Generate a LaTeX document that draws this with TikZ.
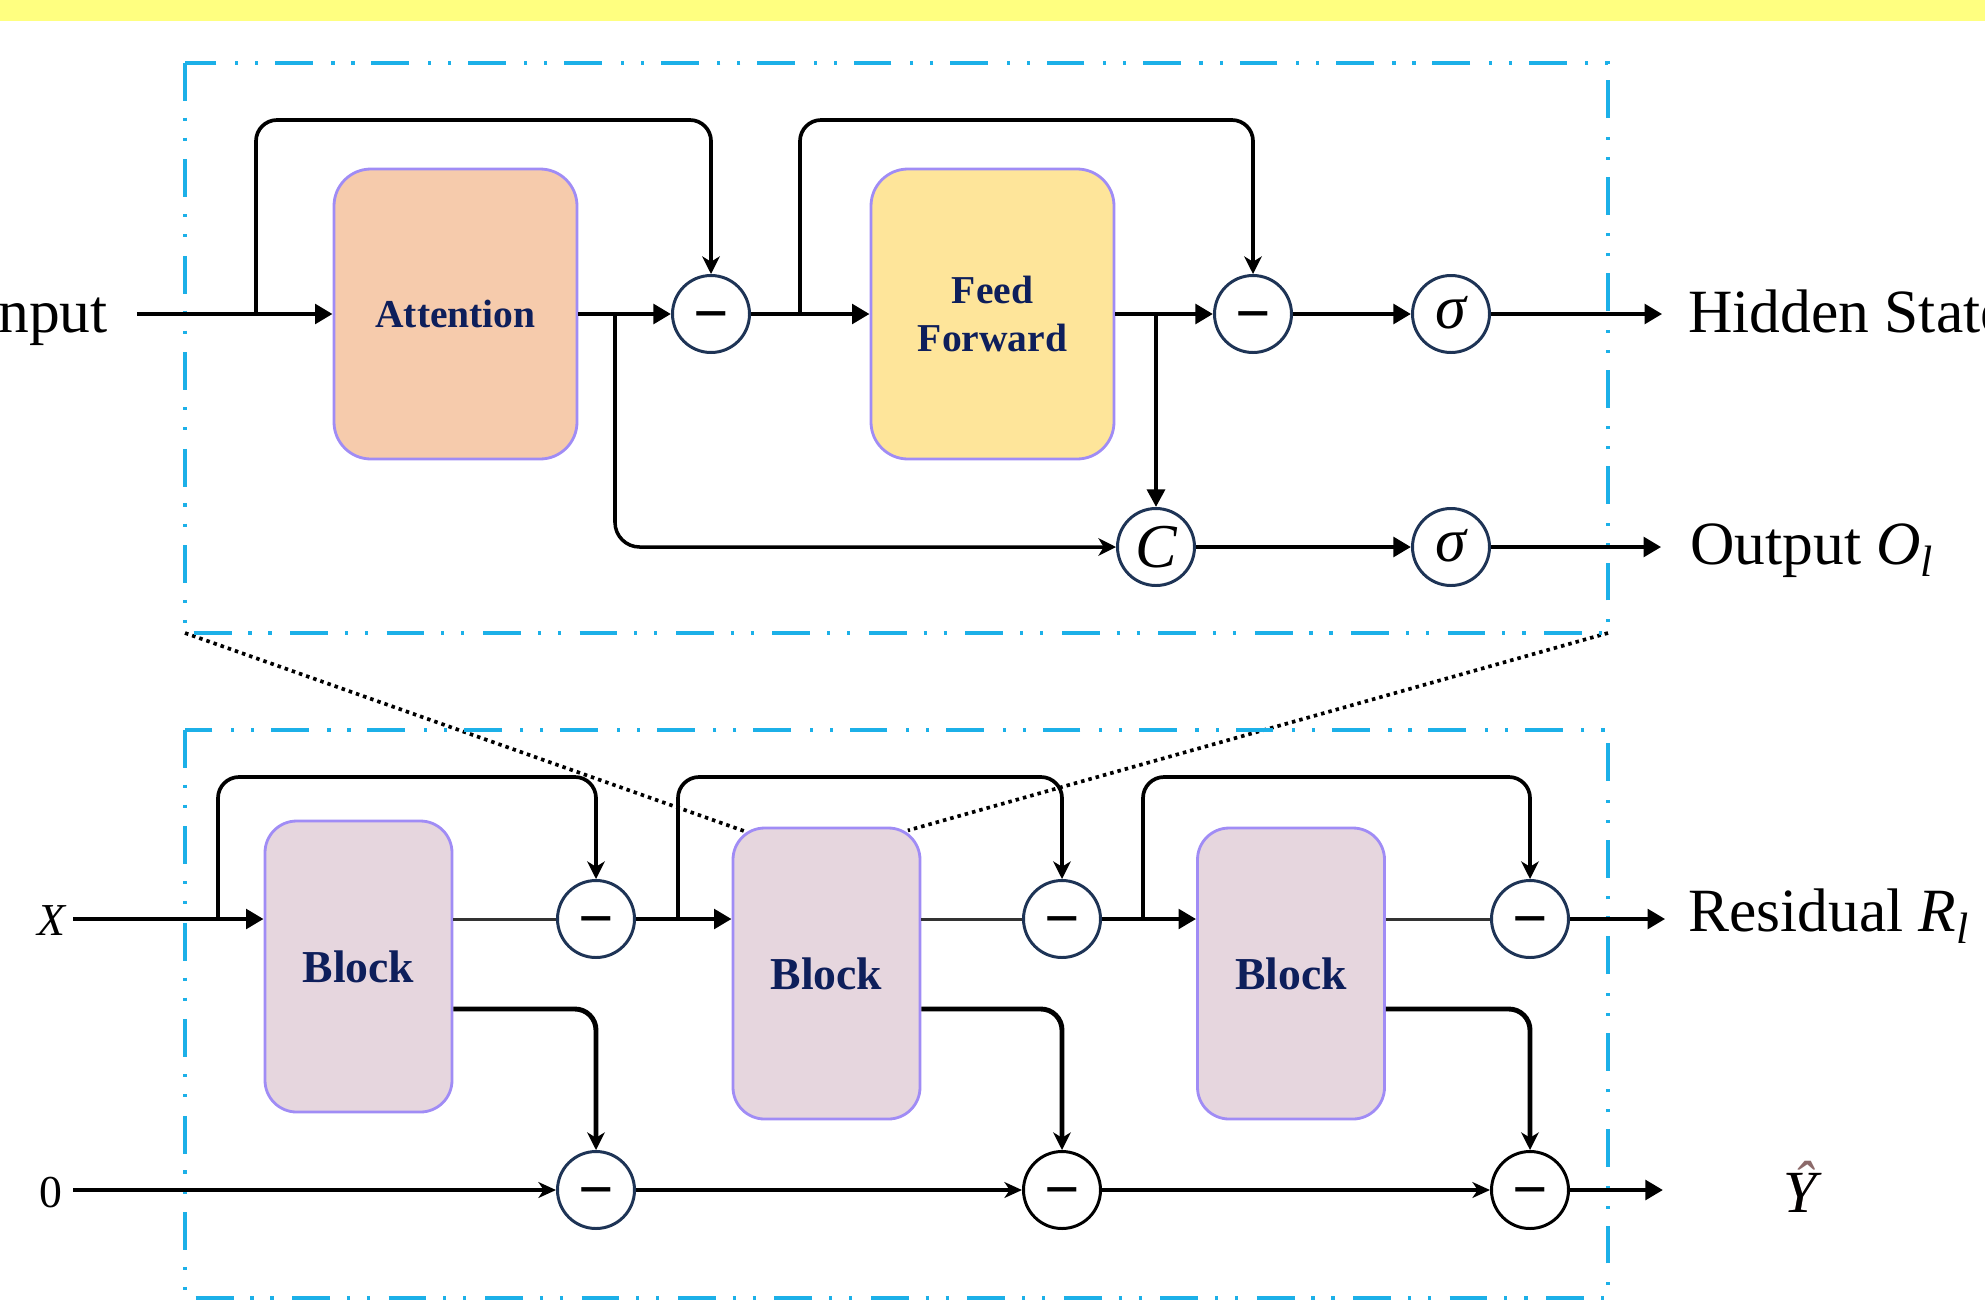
\documentclass[tikz,border=0pt]{standalone}
\usepackage{fontspec}
\setmainfont{Liberation Serif}
\usetikzlibrary{arrows.meta,backgrounds}
\newlength\pxl \setlength\pxl{0.02cm}
\definecolor{cyanb}{HTML}{1CB0E8}
\definecolor{bandyellow}{HTML}{FFFF80}
\definecolor{attfill}{HTML}{F6CBAC}
\definecolor{fffill}{HTML}{FEE59A}
\definecolor{blockfill}{HTML}{E6D6DE}
\definecolor{boxline}{HTML}{A08CF5}
\definecolor{navy}{HTML}{0E1F5B}
\definecolor{opline}{HTML}{1E3456}
\definecolor{hatc}{HTML}{8C6A6A}
\tikzset{
  dashbox/.style={draw=cyanb, line width=2.2pt, dash pattern=on 21.5pt off 9.6pt on 1.8pt off 9.6pt on 1.8pt off 10.6pt},
  bigbox/.style={draw=boxline, line width=1.6pt, rounded corners=21pt, minimum width=243\pxl, minimum height=290\pxl, text=navy, font=\bfseries\fontsize{22.5}{27}\selectfont, align=center, inner sep=0pt},
  blockbox/.style={draw=boxline, line width=1.6pt, rounded corners=18pt, fill=blockfill, minimum width=187\pxl, minimum height=291\pxl, text=navy, font=\bfseries\fontsize{26}{30}\selectfont, inner sep=0pt},
  opnode/.style={circle, draw=opline, line width=1.7pt, fill=white, minimum size=77\pxl, inner sep=0pt, font=\fontsize{35.5}{40}\selectfont},
  minusop/.style={opnode, text height=23pt, text depth=0pt, font=\bfseries\fontsize{35.5}{40}\selectfont},
  sigop/.style={opnode, text height=16.4pt, text depth=0pt, font=\fontsize{35.5}{40}\selectfont\itshape},
  cop/.style={opnode, text height=23.6pt, text depth=0pt, font=\fontsize{35.5}{40}\selectfont\itshape},
  lbl/.style={inner sep=0pt, font=\fontsize{35}{42}\selectfont},
  smalllbl/.style={inner sep=0pt, font=\fontsize{26}{30}\selectfont},
  marr/.style={line width=2.8pt, -{Triangle[length=10pt,width=11pt]}},
  skipl/.style={line width=2.1pt, rounded corners=12pt, -{Stealth[length=10pt,width=10pt,inset=3pt]}},
  brl/.style={line width=2pt, rounded corners=14pt, -{Stealth[length=10pt,width=10pt,inset=3pt]}},
  vdn/.style={line width=2.4pt, -{Triangle[length=10pt,width=10pt]}},
  thinl/.style={line width=1.7pt, draw=black!80},
  lowl/.style={line width=2.8pt, rounded corners=12pt, -{Stealth[length=10pt,width=10pt,inset=3pt]}},
  zarr/.style={line width=2.8pt, -{Stealth[length=10pt,width=9pt,inset=3pt]}},
  dotl/.style={line width=2.1pt, dash pattern=on 2pt off 2.3pt}
}
\begin{document}
\begin{tikzpicture}[x=0.02cm,y=-0.02cm]
\useasboundingbox (0,0) rectangle (1985,1302);
\clip (0,0) rectangle (1985,1302);
\fill[bandyellow] (0,0) rectangle (1985,21);
% frames
\draw[dashbox] (185,63) rectangle (1608,633);
\draw[dashbox] (185,730) rectangle (1608,1298);
\coordinate (tbl) at (185,633);
\coordinate (tbr) at (1608,633);

% ---------- top detail ----------
\node[bigbox, fill=attfill] (att) at (455.5,314) {Attention};
\node[bigbox, fill=fffill] (ff) at (992.5,314) {Feed\\Forward};
\node[minusop] (m1) at (711,314) {−};
\node[minusop] (m2) at (1253,314) {−};
\node[sigop] (s1) at (1451,314) {σ};
\node[cop] (cc) at (1156,547) {C};
\node[sigop] (s2) at (1451,547) {σ};

\node[lbl, anchor=base east] (inp) at (108,332) {Input};
\node[lbl, anchor=base west] (hid) at (1688,332) {Hidden State};
\node[lbl, anchor=base west] (outl) at (1690,564) {Output {\itshape O}\raisebox{-7pt}{\fontsize{25}{25}\selectfont\itshape l}};

\coordinate (tt) at (0,120);
\coordinate (k0) at (256,314);
\coordinate (br) at (615,314);
\coordinate (k2t) at (800,314);

\draw[marr, shorten <=16.4pt] (inp.east |- att.west) -- (att.west);
\draw[skipl] (k0) |- (m1.north |- tt) -- (m1.north);
\draw[marr] (att) -- (m1);
\draw[brl] (br) |- (cc);
\draw[marr] (m1) -- (ff);
\draw[skipl] (k2t) |- (m2.north |- tt) -- (m2.north);
\draw[marr] (ff) -- (m2);
\draw[vdn] (cc.north |- ff.east) -- (cc.north);
\draw[marr] (m2) -- (s1);
\draw[marr, shorten >=14.7pt] (s1) -- (hid.west |- s1);
\draw[marr] (cc) -- (s2);
\draw[marr, shorten >=16.4pt] (s2) -- (outl.west |- s2);

% ---------- bottom stack ----------
\node[blockbox] (b1) at (358.5,966.5) {Block};
\node[blockbox] (b2) at (826.5,973.5) {Block};
\node[blockbox] (b3) at (1291,973.5) {Block};
\node[minusop] (r1) at (596,919) {−};
\node[minusop] (r2) at (1062,919) {−};
\node[minusop] (r3) at (1530,919) {−};
\node[minusop] (z1) at (596,1190) {−};
\node[minusop, draw=black] (z2) at (1062,1190) {−};
\node[minusop, draw=black] (z3) at (1530,1190) {−};

\node[smalllbl, anchor=base east] (xl) at (66,935) {\itshape X};
\node[smalllbl, anchor=base east] (zl) at (63,1207) {0};
\node[lbl, anchor=base west] (res) at (1688,931) {Residual {\itshape R}\raisebox{-7pt}{\fontsize{25}{25}\selectfont\itshape l}};
\node[lbl, anchor=base, font=\fontsize{34}{40}\selectfont\itshape] (yh) at (1800,1212) {\rlap{\textcolor{hatc}{Ŷ}}Y};

\coordinate (xS) at (73,919);
\coordinate (zS) at (73,1190);
\coordinate (tb) at (0,777);
\coordinate (lo) at (0,1009);
\coordinate (k1) at (218,919);
\coordinate (k2) at (678,919);
\coordinate (k3) at (1143,919);
\coordinate (yE) at (1663,1190);

\draw[marr] (xS) -- (b1.west |- xS);
\draw[skipl] (k1) |- (r1.north |- tb) -- (r1.north);
\draw[thinl] (b1.east |- r1) -- (r1);
\draw[marr] (r1) -- (b2.west |- r1);
\draw[skipl] (k2) |- (r2.north |- tb) -- (r2.north);
\draw[thinl] (b2.east |- r2) -- (r2);
\draw[marr] (r2) -- (b3.west |- r2);
\draw[skipl] (k3) |- (r3.north |- tb) -- (r3.north);
\draw[thinl] (b3.east |- r3) -- (r3);
\draw[marr, shorten >=13pt] (r3) -- (res.west |- r3);

\draw[lowl] (b1.east |- lo) -| (z1);
\draw[lowl] (b2.east |- lo) -| (z2);
\draw[lowl] (b3.east |- lo) -| (z3);

\draw[zarr] (zS) -- (z1);
\draw[zarr] (z1) -- (z2);
\draw[zarr] (z2) -- (z3);
\draw[marr] (z3) -- (yE);

\begin{pgfonlayer}{background}
\draw[dotl, shorten >=-8pt] (tbl) -- (b2.north west);
\draw[dotl, shorten >=-8pt] (tbr) -- (b2.north east);
\end{pgfonlayer}
\end{tikzpicture}
\end{document}
